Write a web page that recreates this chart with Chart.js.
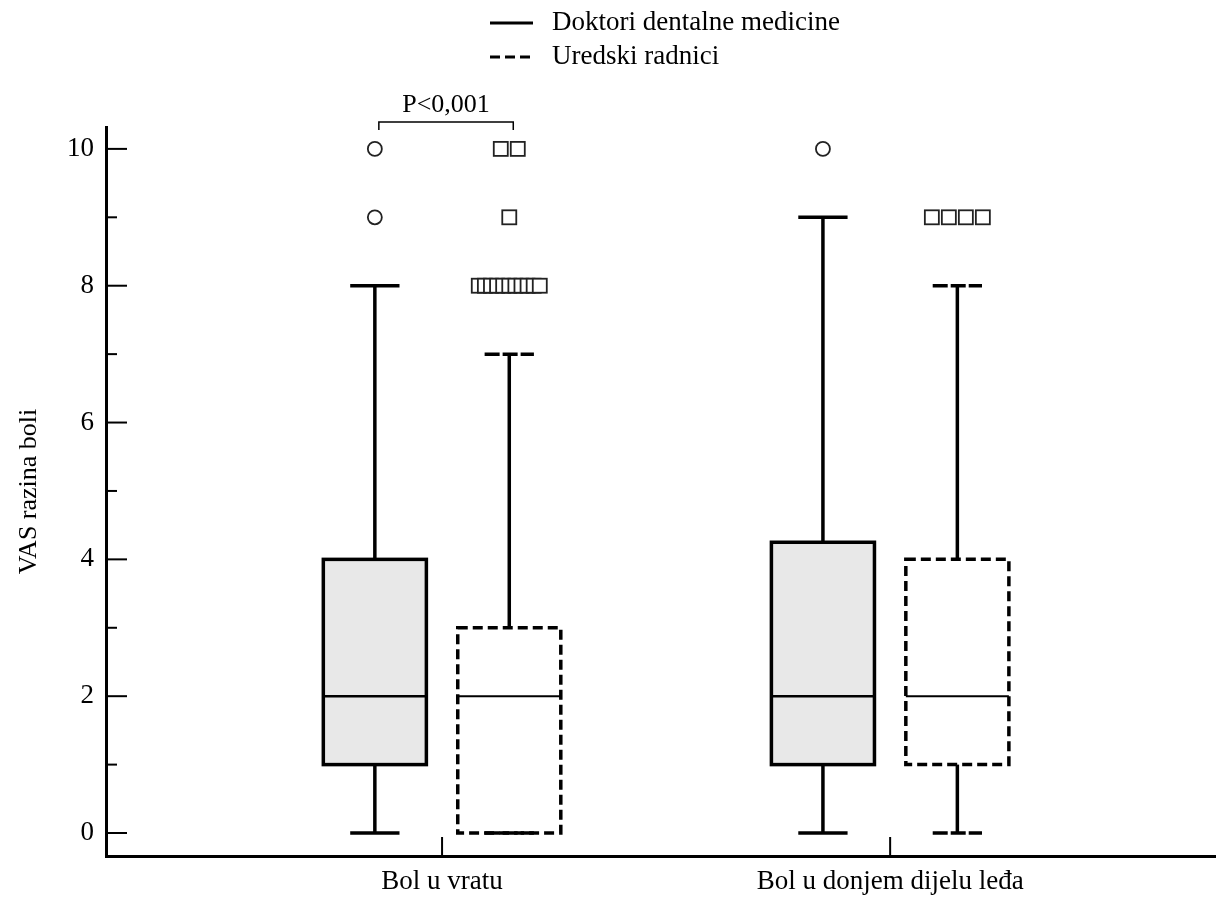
<!DOCTYPE html>
<html>
<head>
<meta charset="utf-8">
<script src="https://cdn.jsdelivr.net/npm/chart.js@4.4.1/dist/chart.umd.min.js"></script>
<style>
  html, body { margin: 0; padding: 0; background: #fff; }
  canvas { display: block; }
</style>
</head>
<body>
<canvas id="boxChart" width="1219" height="897"></canvas>
<script>
const groups = ["Bol u vratu", "Bol u donjem dijelu leđa"];
const seriesNames = ["Doktori dentalne medicine", "Uredski radnici"];

// Doktori dentalne medicine
const docMin = [0, 0];
const docQ1 = [1, 1];
const docMedian = [2, 2];
const docQ3 = [4, 4.25];
const docMax = [8, 9];
const docOutliers = [[9, 10], [10]];

// Uredski radnici
const offMin = [0, 0];
const offQ1 = [0, 1];
const offMedian = [2, 2];
const offQ3 = [3, 4];
const offMax = [7, 8];
const offOutliers = [[8, 8, 8, 8, 8, 8, 8, 8, 8, 8, 8, 9, 10, 10], [9, 9, 9, 9]];

const yTicks = [0, 1, 2, 3, 4, 5, 6, 7, 8, 9, 10];
const yLabels = ["0", "", "2", "", "4", "", "6", "", "8", "", "10"];
const pText = "P<0,001";

const FONT = "'Liberation Serif', 'Times New Roman', serif";

const series = [
  { min: docMin, q1: docQ1, med: docMedian, q3: docQ3, max: docMax, out: docOutliers,
    offset: -0.15, fill: "#e8e8e8", dash: [], capDash: [], medWidth: 2.5, marker: "circle" },
  { min: offMin, q1: offQ1, med: offMedian, q3: offQ3, max: offMax, out: offOutliers,
    offset: 0.15, fill: null, dash: [10, 5], capDash: [15, 3], medWidth: 2, marker: "rect" }
];

function line(ctx, x1, y1, x2, y2) {
  ctx.beginPath();
  ctx.moveTo(x1, y1);
  ctx.lineTo(x2, y2);
  ctx.stroke();
}

const boxPlot = {
  id: "boxPlot",
  afterDraw(chart) {
    const ctx = chart.ctx;
    const xs = chart.scales.x, ys = chart.scales.y;
    const area = chart.chartArea;
    const unit = xs.getPixelForValue(1) - xs.getPixelForValue(0);
    const boxW = 0.23 * unit, capW = 0.11 * unit;

    ctx.save();
    ctx.strokeStyle = "#000";
    ctx.lineCap = "butt";

    // inward tick marks
    ctx.lineWidth = 2;
    ys.ticks.forEach(t => {
      const y = ys.getPixelForValue(t.value);
      line(ctx, area.left, y, area.left + (t.value % 2 === 0 ? 21 : 11), y);
    });
    xs.ticks.forEach(t => {
      const x = xs.getPixelForValue(t.value);
      line(ctx, x, area.bottom, x, area.bottom - 19);
    });

    groups.forEach((g, i) => {
      series.forEach(s => {
        const cx = xs.getPixelForValue(i + s.offset);
        const yMin = ys.getPixelForValue(s.min[i]);
        const yQ1 = ys.getPixelForValue(s.q1[i]);
        const yMed = ys.getPixelForValue(s.med[i]);
        const yQ3 = ys.getPixelForValue(s.q3[i]);
        const yMax = ys.getPixelForValue(s.max[i]);

        ctx.lineWidth = 3.5;
        ctx.setLineDash([]);
        line(ctx, cx, yQ3, cx, yMax);
        line(ctx, cx, yQ1, cx, yMin);
        ctx.setLineDash(s.capDash);
        line(ctx, cx - capW / 2, yMax, cx + capW / 2, yMax);
        line(ctx, cx - capW / 2, yMin, cx + capW / 2, yMin);

        if (s.fill) {
          ctx.fillStyle = s.fill;
          ctx.fillRect(cx - boxW / 2, yQ3, boxW, yQ1 - yQ3);
        }
        ctx.setLineDash(s.dash);
        ctx.strokeRect(cx - boxW / 2, yQ3, boxW, yQ1 - yQ3);

        ctx.setLineDash([]);
        ctx.lineWidth = s.medWidth;
        line(ctx, cx - boxW / 2, yMed, cx + boxW / 2, yMed);

        // outliers, spread side by side when repeated
        const counts = {};
        s.out[i].forEach(v => { counts[v] = (counts[v] || 0) + 1; });
        ctx.lineWidth = 1.8;
        ctx.strokeStyle = "#222";
        ctx.fillStyle = "#fff";
        Object.keys(counts).forEach(v => {
          const n = counts[v];
          const step = n > 1 ? Math.min(17, 61 / (n - 1)) : 0;
          const y = ys.getPixelForValue(Number(v));
          for (let k = 0; k < n; k++) {
            const x = cx + (k - (n - 1) / 2) * step;
            if (s.marker === "circle") {
              ctx.beginPath();
              ctx.arc(x, y, 7, 0, Math.PI * 2);
              ctx.fill();
              ctx.stroke();
            } else {
              ctx.fillRect(x - 7, y - 7, 14, 14);
              ctx.strokeRect(x - 7, y - 7, 14, 14);
            }
          }
        });
        ctx.strokeStyle = "#000";
      });
    });

    // significance bracket
    const bx1 = xs.getPixelForValue(series[0].offset) + 4;
    const bx2 = xs.getPixelForValue(series[1].offset) + 4;
    ctx.lineWidth = 1.5;
    ctx.beginPath();
    ctx.moveTo(bx1, 130);
    ctx.lineTo(bx1, 122);
    ctx.lineTo(bx2, 122);
    ctx.lineTo(bx2, 130);
    ctx.stroke();
    ctx.fillStyle = "#000";
    ctx.font = "26px " + FONT;
    ctx.textAlign = "center";
    ctx.textBaseline = "alphabetic";
    ctx.fillText(pText, (bx1 + bx2) / 2, 112);

    // legend
    ctx.font = "27px " + FONT;
    ctx.textAlign = "left";
    ctx.lineWidth = 3;
    seriesNames.forEach((name, k) => {
      const base = 30 + 34 * k;
      ctx.setLineDash(series[k].dash);
      line(ctx, 490, base - 7, 533, base - 7);
      ctx.fillText(name, 552, base);
    });
    ctx.restore();
  }
};

const ctx = document.getElementById("boxChart").getContext("2d");
new Chart(ctx, {
  type: "scatter",
  data: { datasets: [] },
  options: {
    responsive: false,
    animation: false,
    layout: { padding: { top: 127, right: 4, left: 0, bottom: 0 } },
    plugins: {
      legend: { display: false },
      tooltip: { enabled: false }
    },
    scales: {
      x: {
        type: "linear",
        min: -0.75,
        max: 1.725,
        afterBuildTicks: s => { s.ticks = groups.map((g, i) => ({ value: i })); },
        afterFit: s => { s.height = 41; },
        grid: { display: false, drawTicks: false },
        border: { display: true, width: 3, color: "#000" },
        ticks: {
          callback: v => groups[v],
          autoSkip: false,
          maxRotation: 0,
          padding: 10,
          color: "#000",
          font: { family: FONT, size: 27 }
        }
      },
      y: {
        min: -0.336,
        max: 10.32,
        afterBuildTicks: s => { s.ticks = yTicks.map(v => ({ value: v })); },
        afterFit: s => { s.width = 106; },
        grid: { display: false, drawTicks: false },
        border: { display: true, width: 3, color: "#000" },
        ticks: {
          callback: v => yLabels[yTicks.indexOf(v)],
          autoSkip: false,
          padding: 12,
          color: "#000",
          font: { family: FONT, size: 27 }
        },
        title: {
          display: true,
          text: "VAS razina boli",
          color: "#000",
          padding: { top: 14, bottom: 0 },
          font: { family: FONT, size: 26 }
        }
      }
    }
  },
  plugins: [boxPlot]
});
</script>
</body>
</html>
